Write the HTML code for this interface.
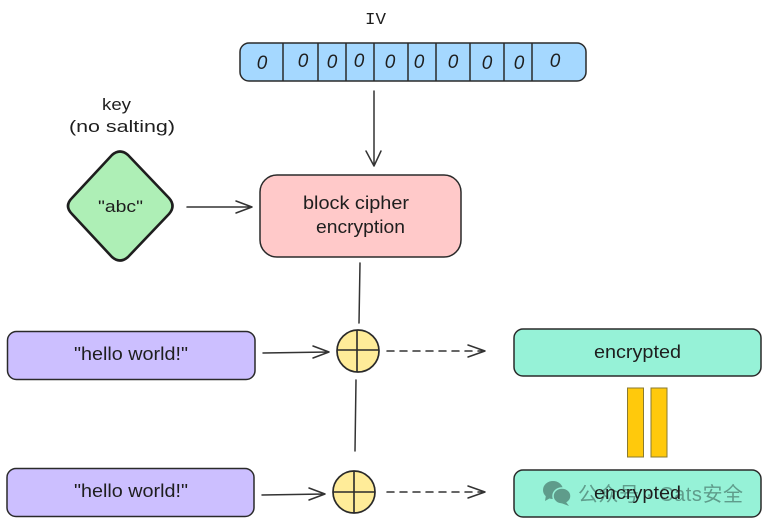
<!DOCTYPE html>
<html>
<head>
<meta charset="utf-8">
<style>
html,body{margin:0;padding:0;background:#fff}
svg{display:block}
text{font-family:"Liberation Sans","DejaVu Sans",sans-serif;fill:#1e1e1e}
.s{fill:none;stroke:#333;stroke-width:1.5;stroke-linecap:round;stroke-linejoin:round}
.b{stroke:#2a2a2a;stroke-width:1.5}
</style>
</head>
<body>
<svg width="768" height="524" viewBox="0 0 768 524" xmlns="http://www.w3.org/2000/svg">
<rect width="768" height="524" fill="#fff"/>

<text x="365" y="24" font-size="17" textLength="21" lengthAdjust="spacingAndGlyphs" style="font-family:'Liberation Mono',monospace">IV</text>
<rect class="b" x="240" y="43" width="346" height="38" rx="9" fill="#a5d8ff"/>
<path class="b" fill="none" d="M283 43V81M318 43V81M346 43V81M374 43V81M408 43V81M436 43V81M470 43V81M504 43V81M532 43V81"/>
<g font-size="19" text-anchor="middle" font-style="italic">
<text x="262" y="69">0</text><text x="303" y="67">0</text><text x="332" y="68">0</text><text x="359" y="67">0</text><text x="390" y="68">0</text><text x="419" y="68">0</text><text x="453" y="68">0</text><text x="487" y="69">0</text><text x="519" y="69">0</text><text x="555" y="67">0</text>
</g>

<path class="s" d="M374 91V166M366 151L374 166L381 151"/>

<text x="102" y="110" font-size="17" textLength="29" lengthAdjust="spacingAndGlyphs">key</text>
<text x="69" y="132" font-size="17" textLength="106" lengthAdjust="spacingAndGlyphs">(no salting)</text>
<path d="M112 155Q120 148 128 155L169 198Q176 206 169 214L128 257Q120 264 112 257L72 214Q64 206 72 198Z" fill="#aeefb6" stroke="#1e1e1e" stroke-width="2.6" stroke-linejoin="round"/>
<text x="98" y="212" font-size="17" textLength="45" lengthAdjust="spacingAndGlyphs">"abc"</text>
<path class="s" d="M187 207H252M236 201L252 207L236 213"/>

<rect class="b" x="260" y="175" width="201" height="82" rx="17" fill="#ffc9c9"/>
<text x="303" y="209" font-size="18" textLength="106" lengthAdjust="spacingAndGlyphs">block cipher</text>
<text x="316" y="233" font-size="18" textLength="89" lengthAdjust="spacingAndGlyphs">encryption</text>

<path class="s" d="M360 263L359 323"/>
<path class="s" d="M356 380L355 451"/>

<rect class="b" x="7.500" y="331.500" width="247.500" height="48" rx="9" fill="#ccbfff"/>
<text x="74" y="360" font-size="18" textLength="114" lengthAdjust="spacingAndGlyphs">"hello world!"</text>
<rect class="b" x="7" y="468.500" width="247" height="48" rx="9" fill="#ccbfff"/>
<text x="74" y="497" font-size="18" textLength="114" lengthAdjust="spacingAndGlyphs">"hello world!"</text>

<path class="s" d="M263 353L329 352M313 346L329 352L313 358"/>
<path class="s" d="M262 495L325 494M309 488L325 494L309 500"/>

<circle cx="358" cy="351" r="21" fill="#ffec99" stroke="#2a2a2a" stroke-width="1.7"/>
<path d="M337 350H379M357 330V372" stroke="#2a2a2a" stroke-width="1.6" fill="none"/>
<circle cx="354" cy="492" r="21" fill="#ffec99" stroke="#2a2a2a" stroke-width="1.7"/>
<path d="M333 492H375M354 471V513" stroke="#2a2a2a" stroke-width="1.6" fill="none"/>

<path class="s" stroke-dasharray="7 6" d="M387 351H484"/>
<path class="s" d="M468 345L485 351L468 357"/>
<path class="s" stroke-dasharray="7 6" d="M387 492H484"/>
<path class="s" d="M468 486L485 492L468 498"/>

<rect class="b" x="514" y="329" width="247" height="47" rx="9" fill="#96f2d7"/>
<text x="594" y="358" font-size="18" textLength="87" lengthAdjust="spacingAndGlyphs">encrypted</text>
<rect class="b" x="514" y="470" width="247" height="47" rx="9" fill="#96f2d7"/>

<rect x="627.500" y="388" width="16" height="69" fill="#ffc90c" stroke="#8a7a30" stroke-width="1"/>
<rect x="651" y="388" width="16" height="69" fill="#ffc90c" stroke="#8a7a30" stroke-width="1"/>

<g fill="#5f9c8b">
<ellipse cx="553" cy="490" rx="10" ry="9"/>
<path d="M546 495L545 501L552 497Z"/>
<ellipse cx="562" cy="496" rx="9" ry="8" stroke="#96f2d7" stroke-width="1.500"/>
<path d="M566 502L569 506L561 503Z"/>
</g>
<text x="578" y="501" font-size="20" textLength="165" lengthAdjust="spacing" style="font-family:'Liberation Sans','Noto Sans CJK SC',sans-serif;fill:#5f9c8b">公众号 · Cats安全</text>
<text x="594" y="499" font-size="18" textLength="87" lengthAdjust="spacingAndGlyphs">encrypted</text>
</svg>
</body>
</html>
